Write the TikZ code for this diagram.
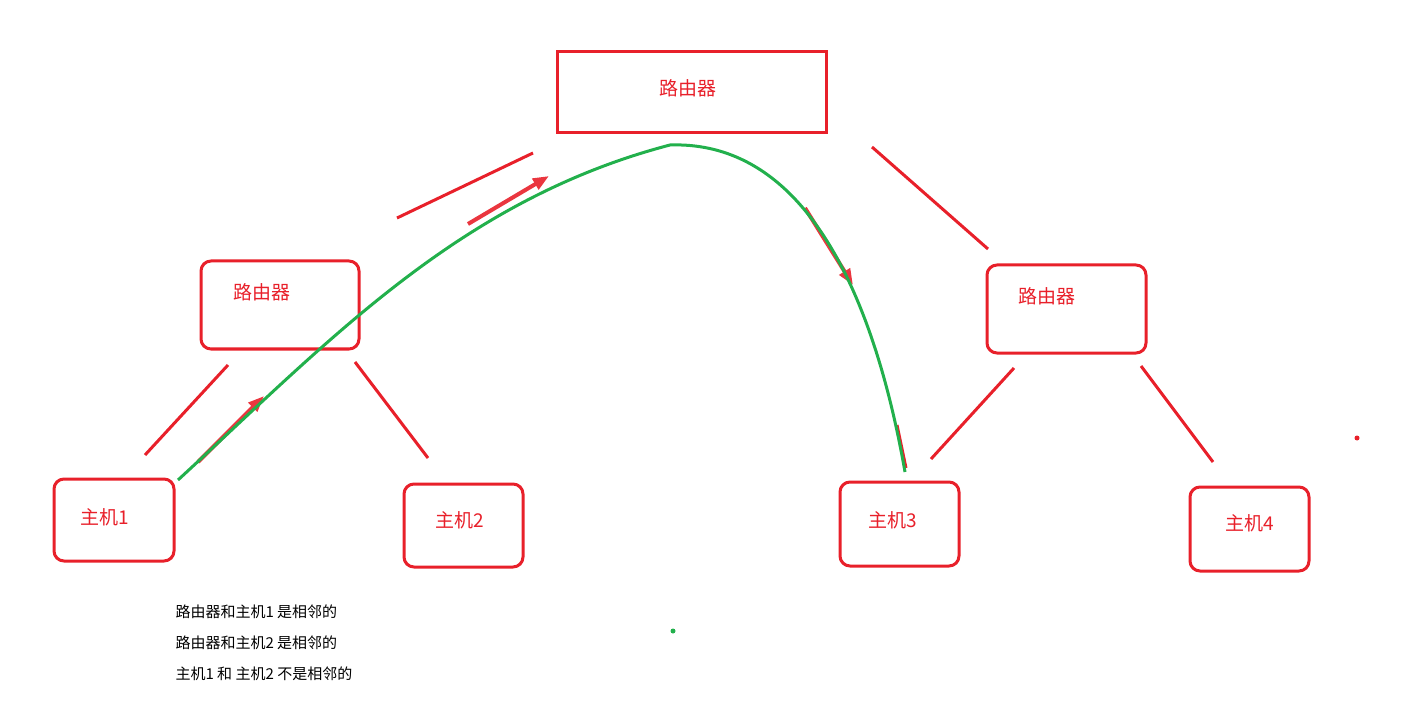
\documentclass[tikz,border=0pt]{standalone}
\usepackage{fontspec}
\newfontfamily\cjk{Noto Sans CJK SC}
\newfontfamily\cjkb{Noto Sans CJK SC Bold}
\usetikzlibrary{arrows.meta}
\definecolor{rr}{HTML}{E8202A}
\definecolor{gg}{HTML}{22B04C}
\begin{document}
\begin{tikzpicture}[x=1pt,y=-1pt,
  box/.style={draw=rr,line width=3pt,rounded corners=10pt},
  lbl/.style={text=rr,font=\cjk\fontsize{19}{19}\selectfont},
  ln/.style={draw=rr,line width=3pt},
  arr/.style={draw=rr!90!white,line width=4pt,-{Triangle[length=16pt,width=12pt]}},
  note/.style={anchor=west,font=\cjk\fontsize{15}{15}\selectfont}]
\useasboundingbox (0,0) rectangle (1402,708);
\draw[draw=rr,line width=3pt] (557,52) rectangle (826,133);
\node[lbl] (r0) at (688,88) {路由器};
\draw[box] (201,261) rectangle (359,349); \node[lbl] (r1) at (262,292) {路由器};
\draw[box] (987,265) rectangle (1146,353); \node[lbl] (r2) at (1047,296) {路由器};
\draw[box] (54,479) rectangle (174,561); \node[lbl] (h1) at (105,517) {主机1};
\draw[box] (404,484) rectangle (523,567); \node[lbl] (h2) at (460,520) {主机2};
\draw[box] (840,482) rectangle (959,566); \node[lbl] (h3) at (893,520) {主机3};
\draw[box] (1190,487) rectangle (1309,571); \node[lbl] (h4) at (1250,523) {主机4};
\draw[ln] (145,455)--(228,365); \draw[ln] (355,362)--(428,458);
\draw[ln] (397,218)--(533,153); \draw[ln] (872,147)--(988,249);
\draw[ln] (931,459)--(1014,368); \draw[ln] (1141,366)--(1213,462);
\draw[arr] (198,462)--(264,396);
\draw[arr] (468,224)--(549,176);
\draw[arr] (805,208)--(853,285);
\draw[rr,line width=3pt] (897,425)--(906,468);
\draw[gg,line width=3pt] (178,480) .. controls (330,340) and (460,200) .. (670,145)
  .. controls (820,140) and (880,330) .. (905,472);
\fill[rr] (1357,438) circle (2.5);
\fill[gg] (673,631) circle (2.5);
\node[note] (n1) at (172,612) {路由器和主机1 是相邻的};
\node[note] (n2) at (172,643) {路由器和主机2 是相邻的};
\node[note] (n3) at (172,674) {主机1 和 主机2 不是相邻的};
\end{tikzpicture}
\end{document}
